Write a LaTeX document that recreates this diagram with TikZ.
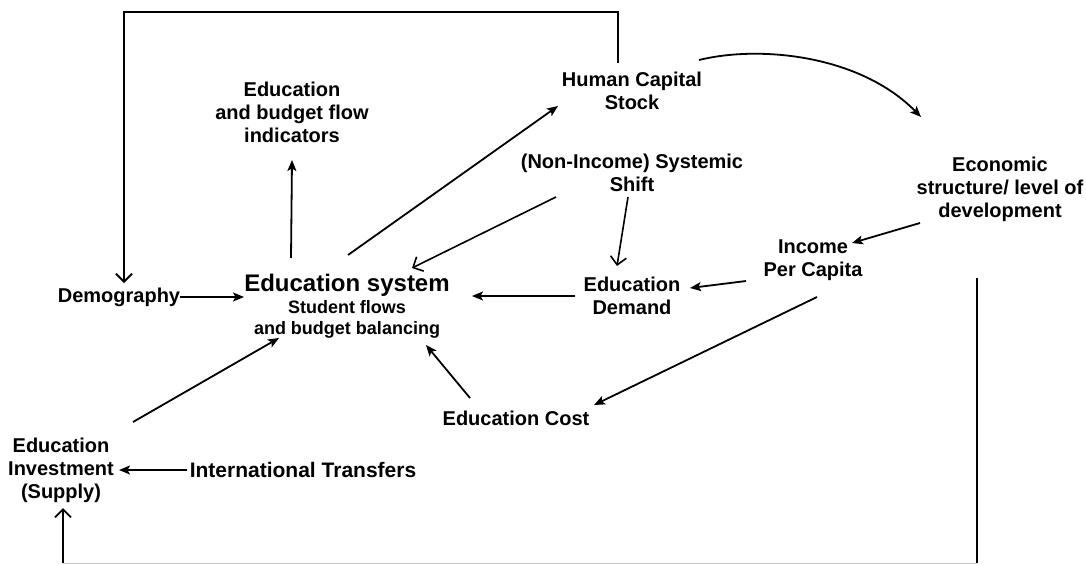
\documentclass[tikz,border=0pt]{standalone}
\usepackage{fontspec}
\setmainfont{Liberation Sans}
\usetikzlibrary{arrows.meta,calc}
\begin{document}
\begin{tikzpicture}[x=1pt,y=-1pt,
 lbl/.style={font=\bfseries\fontsize{20}{23}\selectfont, align=center, inner sep=0pt},
 fa/.style={line width=1.8pt, -{Stealth[length=11pt,width=9pt,inset=2.5pt]}},
 oa/.style={line width=1.6pt, -{Straight Barb[length=8pt,width=16pt]}},
 ln/.style={line width=1.8pt}]
\useasboundingbox[fill=white] (0,0) rectangle (1086,565);

\node[lbl] (dem) at (119,297) {Demography};
\node[lbl, font=\bfseries\fontsize{18}{20.5}\selectfont] (es) at (347,306)
  {{\fontsize{24}{24}\selectfont Education system}\\[2pt] Student flows\\ and budget balancing};
\node[lbl] (ebf) at (292,112) {Education\\ and budget flow\\ indicators};
\node[lbl] (hcs) at (632,91) {Human Capital\\ Stock};
\node[lbl] (nis) at (632,173) {(Non-Income) Systemic\\ Shift};
\node[lbl] (edd) at (632,296) {Education\\ Demand};
\node[lbl] (ipc) at (813,260) {Income\\ Per Capita};
\node[lbl] (eco) at (1000,189) {Economic\\ structure/ level of\\ development};
\node[lbl] (ec) at (516,418) {Education Cost};
\node[lbl] (ei) at (61,470) {Education\\ Investment\\ (Supply)};
\node[lbl, font=\bfseries\fontsize{21}{23}\selectfont] (it) at (303,470) {International Transfers};

\coordinate (tr) at (618,12);
\coordinate (tl) at (124,12);
\coordinate (br0) at (977,278);
\coordinate (br) at (977,563);
\coordinate (bl) at (63,563);

% connectors
\draw[fa] ($(dem)+(61,0)$) -- ($(es)+(-103,-9)$);
\draw[fa] ($(es)+(-56,-48)$) -- ($(ebf)+(0,48)$);
\draw[fa] ($(es)+(1,-51)$) -- ($(hcs)+(-74,15)$);
\draw[oa] ($(nis)+(-76,24)$) -- ($(es)+(65,-38)$);
\draw[oa] ($(nis)+(-4,24)$) -- ($(edd)+(-15,-30)$);
\draw[fa] ($(edd)+(-57,0)$) -- ($(es)+(125,-10)$);
\draw[fa] ($(ipc)+(-67,21)$) -- ($(edd)+(58,-8)$);
\draw[fa] ($(eco)+(-80,34)$) -- ($(ipc)+(39,-17)$);
\draw[fa] ($(ipc)+(4,37)$) -- ($(ec)+(78,-13)$);
\draw[fa] ($(ec)+(-46,-20)$) -- ($(es)+(79,39)$);
\draw[fa] ($(ei)+(72,-48)$) -- ($(es)+(-68,32)$);
\draw[fa] ($(it)+(-116,0)$) -- ($(ei)+(58,0)$);
\draw[fa] ($(hcs)+(67,-31)$) .. controls ($(hcs)+(128,-46)$) and ($(eco)+(-140,-134)$) .. ($(eco)+(-79,-72)$);
\draw[oa, line width=1.8pt] ($(hcs)+(-14,-28)$) -- (tr) -- (tl) -- ($(dem)+(5,-14)$);
\draw[ln] (br0) -- (br);
\draw[line width=1pt, gray!45] (br) -- (bl);
\draw[oa, line width=1.8pt] (bl) -- ($(ei)+(2,38)$);
\end{tikzpicture}
\end{document}
